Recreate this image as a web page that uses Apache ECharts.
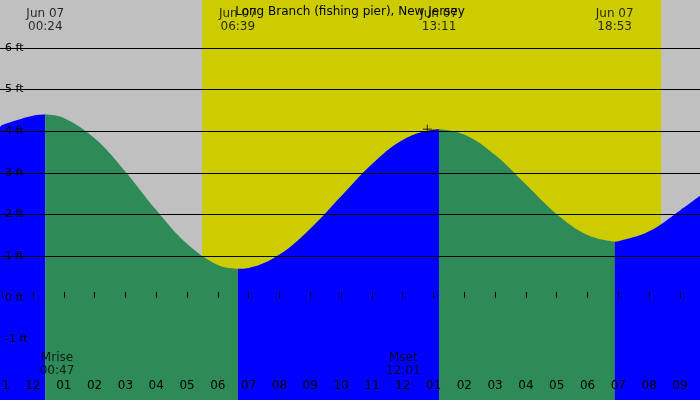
<!DOCTYPE html>
<html><head><meta charset="utf-8">
<script src="https://cdn.jsdelivr.net/npm/echarts@6/dist/echarts.min.js"></script>
<style>html,body{margin:0;padding:0}#c{width:700px;height:400px}</style>
</head><body><div id="c"></div>
<script>
// hours from midnight Jun 07, tide heights in ft
var times   = [-1.07, -1, 0, 0.4, 1, 2, 3, 4, 5, 6, 6.65, 7, 8, 9, 10, 11, 12, 13, 13.18, 14, 15, 16, 17, 18, 18.88, 19, 20, 21, 21.65];
var heights = [4.1, 4.15, 4.37, 4.4, 4.32, 3.83, 3.03, 2.11, 1.3, 0.79, 0.7, 0.72, 1.04, 1.66, 2.44, 3.21, 3.79, 4.04, 4.05, 3.92, 3.43, 2.72, 2.01, 1.51, 1.35, 1.36, 1.6, 2.1, 2.45];
var extremeTimes = [0.4, 6.65, 13.18, 18.88];
var extremeLabels = ['00:24', '06:39', '13:11', '18:53'];
var sunrise = 5.49, sunset = 20.39;
var moonTimes = [0.78, 12.02];
var moonLabels = ['Mrise\n00:47', 'Mset\n12:01'];
var hourTicks = [-1,0,1,2,3,4,5,6,7,8,9,10,11,12,13,14,15,16,17,18,19,20,21];
var feet = [-1,0,1,2,3,4,5,6];

var xmin = -1.07, xmax = 21.65, ymin = -2.45, ymax = 7.15;

// split the curve into rising (blue) / falling (green) pieces at the extremes
var bounds = [xmin].concat(extremeTimes).concat([xmax]);
var tideSeries = [];
for (var s = 0; s < bounds.length - 1; s++) {
    var pts = [];
    for (var i = 0; i < times.length; i++) {
        if (times[i] >= bounds[s] && times[i] <= bounds[s+1]) pts.push([times[i], heights[i]]);
    }
    var rising = pts[pts.length-1][1] > pts[0][1];
    var col = rising ? '#0000ff' : '#2e8b57';
    tideSeries.push({
        type: 'line', data: pts, smooth: 0.4, symbol: 'none', z: 3,
        lineStyle: {width: 0}, areaStyle: {color: col, opacity: 1, origin: 'start'}
    });
}

var chart = echarts.init(document.getElementById('c'));
chart.setOption({
    backgroundColor: '#c0c0c0',
    animation: false,
    textStyle: {fontFamily: 'DejaVu Sans'},
    title: {text: 'Long Branch (fishing pier), New Jersey', left: 'center', top: 1,
        textStyle: {fontSize: 12, fontWeight: 'normal', color: '#000'}},
    grid: {left: 0, right: 0, top: 0, bottom: 0, containLabel: false, outerBoundsMode: 'none'},
    xAxis: {type: 'value', min: xmin, max: xmax, z: 10, splitLine: {show: false},
        axisLine: {show: false},
        axisTick: {show: true, inside: true, length: 6, customValues: hourTicks, lineStyle: {color: '#000'}},
        axisLabel: {inside: true, margin: 8, customValues: hourTicks, color: '#000', fontSize: 12,
            formatter: function (v) { var h = ((Math.round(v) % 12) + 12) % 12; if (h === 0) h = 12; return (h < 10 ? '0' : '') + h; }}},
    yAxis: {type: 'value', min: ymin, max: ymax, z: 10, splitLine: {show: false}, axisLine: {show: false},
        axisTick: {show: false},
        axisLabel: {inside: true, margin: 5, customValues: feet, color: '#000', fontSize: 11,
            formatter: function (v) { return v + ' ft'; }}},
    series: [
        {type: 'line', data: [], z: 1, silent: true,
         markArea: {silent: true, itemStyle: {color: '#cccc00'}, data: [[{xAxis: sunrise}, {xAxis: sunset}]]}},
        {type: 'line', data: [], z: 2, silent: true,
         markLine: {silent: true, symbol: 'none', label: {show: false},
            lineStyle: {color: '#000', type: 'solid', width: 1},
            data: feet.filter(function (f) { return f > 0; }).map(function (f) { return {yAxis: f}; })}}
    ].concat(tideSeries).concat([
        {type: 'scatter', z: 5, symbolSize: 0, silent: true,
         data: extremeTimes.map(function (t) { return [t, 6.65]; }),
         label: {show: true, position: 'inside', color: '#000', fontSize: 12, lineHeight: 13,
            formatter: function (p) { return 'Jun 07\n' + extremeLabels[p.dataIndex]; }}},
        {type: 'scatter', z: 5, symbolSize: 0, silent: true,
         data: moonTimes.map(function (t) { return [t, -1.6]; }),
         label: {show: true, position: 'inside', color: '#000', fontSize: 12, lineHeight: 13,
            formatter: function (p) { return moonLabels[p.dataIndex]; }}},
        {type: 'scatter', z: 6, symbol: 'path://M0,5L10,5M5,0L5,10', symbolSize: 9, silent: true,
         itemStyle: {color: 'none', borderColor: '#000', borderWidth: 1},
         data: [[12.8, 4.05]]}
    ])
});
</script></body></html>
